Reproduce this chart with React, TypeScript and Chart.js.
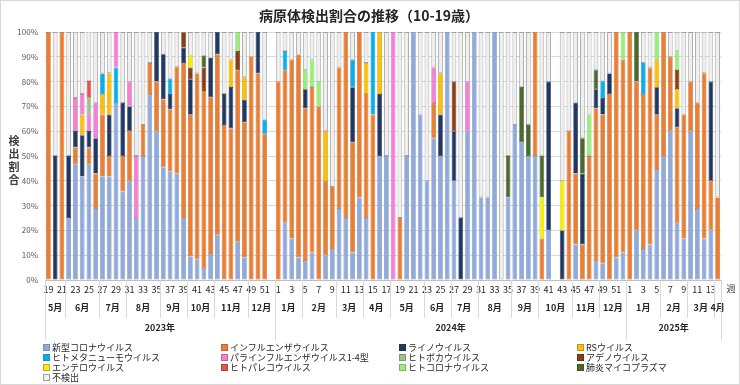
import React, { useEffect, useRef } from 'react';
import { Chart, registerables } from 'chart.js';

Chart.register(...registerables);

const FONT = '"Noto Sans CJK JP", "Noto Sans", sans-serif';
const TITLE = '病原体検出割合の推移（10-19歳）';
const Y_TITLE = ['検', '出', '割', '合'];
const X_UNIT = '週';

// categories: surveillance weeks 2023 w19 – 2025 w14
const WEEKS_2023 = Array.from({ length: 34 }, (_, i) => String(19 + i));
const WEEKS_2024 = Array.from({ length: 52 }, (_, i) => String(1 + i));
const WEEKS_2025 = Array.from({ length: 14 }, (_, i) => String(1 + i));
const WEEK_LABELS = [...WEEKS_2023, ...WEEKS_2024, ...WEEKS_2025];

const MONTH_LABELS = ['5月', '6月', '7月', '8月', '9月', '10月', '11月', '12月',
  '1月', '2月', '3月', '4月', '5月', '6月', '7月', '8月', '9月', '10月', '11月', '12月',
  '1月', '2月', '3月', '4月'];
const MONTH_SPANS = [3, 5, 4, 5, 4, 4, 5, 4, 4, 5, 4, 4, 5, 4, 4, 5, 4, 5, 4, 4, 5, 4, 4, 1];
const YEAR_LABELS = ['2023年', '2024年', '2025年'];
const YEAR_SPANS = [34, 52, 14];

// series values (%), bottom to top
const COVID = [
  0, 0, 0, 25, 46.7, 41.7, 46.7, 28.6, 41.7, 41.7,
  71.4, 35.7, 40, 25, 50, 75, 60, 45.5, 43.8, 42.9,
  25, 9.5, 8.3, 4.8, 10.5, 18.2, 0, 0, 15.4, 9.1,
  0, 0, 0, null,
  0, 23.1, 16.7, 9.1, 7.7, 11.1, 0, 10, 12.5, 28.6,
  25, 11.1, 33.3, 25, 0, 50, 50, 0, 0, 50,
  100, 66.7, 40, 57.1, 50, 100, 40, 0, 60, 100,
  33.3, 33.3, 100, 0, 33.3, 62.5, 55.6, 50, 50, 0,
  20, null, 0, 0, 14.3, 0, 0, 7.7, 6.7, 0,
  9.1, 11.1,
  0, 20, 12.5, 14.3, 44.4, 50, 60, 23.1, 16.7, 60,
  28.6, 16.7, 20, 0,
];
const FLU = [
  100, 0, 100, 0, 6.7, 0, 6.7, 14.3, 25, 8.3,
  0, 14.3, 20, 0, 12.5, 12.5, 20, 27.3, 25, 42.9,
  62.5, 57.1, 75, 71.4, 63.2, 72.7, 62.5, 61.1, 69.2, 54.5,
  90, 83.3, 58.8, null,
  80, 61.5, 72.2, 81.8, 61.5, 66.7, 70, 30, 25, 57.1,
  75, 44.4, 66.7, 50, 66.7, 0, 0, 0, 25, 0,
  0, 0, 0, 14.3, 0, 0, 0, 0, 0, 0,
  0, 0, 0, 0, 0, 0, 0, 0, 50, 16.7,
  0, null, 0, 60, 28.6, 14.3, 50, 61.5, 60, 75,
  90.9, 77.8,
  100, 60, 62.5, 71.4, 22.2, 50, 30, 38.5, 50, 20,
  42.9, 66.7, 20, 33.3,
];
const RHINO = [
  0, 50, 0, 25, 6.7, 16.7, 6.7, 14.3, 0, 16.7,
  0, 21.4, 10, 0, 0, 0, 20, 18.2, 6.2, 0,
  6.2, 14.3, 0, 0, 15.8, 9.1, 12.5, 16.7, 0, 9.1,
  0, 16.7, 0, null,
  0, 0, 0, 0, 7.7, 0, 0, 0, 0, 0,
  0, 22.2, 0, 0, 0, 25, 0, 0, 0, 0,
  0, 0, 0, 0, 16.7, 0, 20, 25, 0, 0,
  0, 0, 0, 0, 0, 0, 0, 0, 0, 0,
  60, null, 20, 0, 28.6, 28.6, 0, 7.7, 6.7, 8.3,
  0, 0,
  0, 0, 0, 0, 11.1, 0, 0, 7.7, 0, 0,
  0, 0, 40, 0,
];
const RSV = [
  0, 0, 0, 0, 0, 8.3, 0, 0, 8.3, 16.7,
  0, 0, 0, 0, 0, 0, 0, 0, 0, 0,
  0, 0, 0, 0, 0, 0, 0, 11.1, 0, 9.1,
  0, 0, 0, null,
  0, 0, 0, 0, 0, 0, 0, 20, 0, 0,
  0, 0, 0, 12.5, 0, 25, 0, 0, 0, 0,
  0, 0, 0, 0, 16.7, 0, 0, 0, 0, 0,
  0, 0, 0, 0, 0, 0, 0, 0, 0, 0,
  0, null, 0, 0, 0, 0, 0, 0, 0, 0,
  0, 0,
  0, 0, 0, 0, 11.1, 0, 0, 7.7, 0, 0,
  0, 0, 0, 0,
];
const HMPV = [
  0, 0, 0, 0, 0, 0, 0, 0, 8.3, 0,
  14.3, 0, 0, 0, 0, 0, 0, 0, 6.2, 0,
  0, 0, 0, 0, 0, 0, 0, 0, 0, 0,
  0, 0, 5.9, null,
  0, 7.7, 0, 0, 0, 0, 0, 0, 0, 0,
  0, 11.1, 0, 0, 33.3, 0, 0, 0, 0, 0,
  0, 0, 0, 0, 0, 0, 0, 0, 0, 0,
  0, 0, 0, 0, 0, 0, 0, 0, 0, 0,
  0, null, 0, 0, 0, 0, 0, 0, 6.7, 0,
  0, 0,
  0, 0, 12.5, 0, 0, 0, 0, 0, 0, 0,
  0, 0, 0, 0,
];
const PARA = [
  0, 0, 0, 0, 13.3, 8.3, 6.7, 14.3, 0, 0,
  14.3, 0, 10, 25, 0, 0, 0, 0, 0, 0,
  0, 0, 0, 0, 0, 0, 0, 0, 0, 0,
  0, 0, 0, null,
  0, 0, 0, 0, 0, 0, 0, 0, 0, 0,
  0, 0, 0, 0, 0, 0, 0, 100, 0, 0,
  0, 0, 0, 14.3, 0, 0, 0, 0, 20, 0,
  0, 0, 0, 0, 0, 0, 0, 0, 0, 0,
  0, null, 0, 0, 0, 0, 0, 0, 0, 0,
  0, 0,
  0, 0, 0, 0, 0, 0, 0, 0, 0, 0,
  0, 0, 0, 0,
];
const BOCA = [
  0, 0, 0, 0, 0, 0, 6.7, 0, 0, 0,
  0, 0, 0, 0, 0, 0, 0, 0, 0, 0,
  0, 0, 0, 0, 0, 0, 0, 0, 0, 0,
  0, 0, 0, null,
  0, 0, 0, 0, 0, 0, 0, 0, 0, 0,
  0, 0, 0, 0, 0, 0, 0, 0, 0, 0,
  0, 0, 0, 0, 0, 0, 0, 0, 0, 0,
  0, 0, 0, 0, 0, 0, 0, 0, 0, 0,
  0, null, 0, 0, 0, 0, 0, 0, 0, 0,
  0, 0,
  0, 0, 0, 0, 0, 0, 0, 0, 0, 0,
  0, 0, 0, 0,
];
const ADENO = [
  0, 0, 0, 0, 0, 0, 0, 0, 0, 0,
  0, 0, 0, 0, 0, 0, 0, 0, 0, 0,
  6.2, 4.8, 0, 9.5, 0, 0, 0, 0, 7.7, 0,
  0, 0, 0, null,
  0, 0, 0, 0, 0, 0, 0, 0, 0, 0,
  0, 0, 0, 0, 0, 0, 0, 0, 0, 0,
  0, 0, 0, 0, 0, 0, 20, 0, 0, 0,
  0, 0, 0, 0, 0, 0, 0, 0, 0, 0,
  0, null, 0, 0, 0, 0, 0, 0, 0, 0,
  0, 0,
  0, 0, 0, 0, 0, 0, 0, 7.7, 0, 0,
  0, 0, 0, 0,
];
const ENTERO = [
  0, 0, 0, 0, 0, 0, 0, 0, 0, 0,
  0, 0, 0, 0, 0, 0, 0, 0, 0, 0,
  0, 4.8, 0, 0, 0, 0, 0, 0, 0, 0,
  0, 0, 0, null,
  0, 0, 0, 0, 0, 0, 0, 0, 0, 0,
  0, 0, 0, 0, 0, 0, 0, 0, 0, 0,
  0, 0, 0, 0, 0, 0, 0, 0, 0, 0,
  0, 0, 0, 0, 0, 0, 0, 0, 0, 16.7,
  0, null, 20, 0, 0, 0, 0, 0, 0, 0,
  0, 0,
  0, 0, 0, 0, 0, 0, 0, 0, 0, 0,
  0, 0, 0, 0,
];
const PARECHO = [
  0, 0, 0, 0, 0, 0, 6.7, 0, 0, 0,
  0, 0, 0, 0, 0, 0, 0, 0, 0, 0,
  0, 0, 0, 0, 0, 0, 0, 0, 0, 0,
  0, 0, 0, null,
  0, 0, 0, 0, 0, 0, 0, 0, 0, 0,
  0, 0, 0, 0, 0, 0, 0, 0, 0, 0,
  0, 0, 0, 0, 0, 0, 0, 0, 0, 0,
  0, 0, 0, 0, 0, 0, 0, 0, 0, 0,
  0, null, 0, 0, 0, 0, 0, 0, 0, 0,
  0, 0,
  0, 0, 0, 0, 0, 0, 0, 0, 0, 0,
  0, 0, 0, 0,
];
const HCOV = [
  0, 0, 0, 0, 0, 0, 0, 0, 0, 0,
  0, 0, 0, 0, 0, 0, 0, 0, 0, 0,
  0, 0, 0, 0, 0, 0, 0, 0, 7.7, 0,
  0, 0, 0, null,
  0, 0, 0, 0, 7.7, 11.1, 10, 0, 0, 0,
  0, 0, 0, 0, 0, 0, 0, 0, 0, 0,
  0, 0, 0, 0, 0, 0, 0, 0, 0, 0,
  0, 0, 0, 0, 0, 0, 0, 0, 0, 0,
  0, null, 0, 0, 0, 0, 16.7, 0, 0, 0,
  0, 11.1,
  0, 0, 0, 0, 11.1, 0, 0, 7.7, 0, 0,
  0, 0, 0, 0,
];
const MYCO = [
  0, 0, 0, 0, 0, 0, 0, 0, 0, 0,
  0, 0, 0, 0, 0, 0, 0, 0, 0, 0,
  0, 0, 0, 4.8, 0, 0, 0, 0, 0, 0,
  0, 0, 0, null,
  0, 0, 0, 0, 0, 0, 0, 0, 0, 0,
  0, 0, 0, 0, 0, 0, 0, 0, 0, 0,
  0, 0, 0, 0, 0, 0, 0, 0, 0, 0,
  0, 0, 0, 0, 16.7, 0, 22.2, 12.5, 0, 16.7,
  0, null, 0, 0, 0, 14.3, 0, 7.7, 0, 0,
  0, 0,
  0, 20, 0, 0, 0, 0, 0, 0, 0, 0,
  0, 0, 0, 0,
];
const NOT_DETECTED = [
  0, 50, 0, 50, 26.7, 25, 20, 28.6, 16.7, 16.7,
  0, 28.6, 20, 50, 37.5, 12.5, 0, 9.1, 18.8, 14.3,
  0, 9.5, 16.7, 9.5, 10.5, 0, 25, 11.1, 0, 18.2,
  10, 0, 35.3, null,
  20, 7.7, 11.1, 9.1, 15.4, 11.1, 20, 40, 62.5, 14.3,
  0, 11.1, 0, 12.5, 0, 0, 50, 0, 75, 50,
  0, 33.3, 60, 14.3, 16.7, 0, 20, 75, 20, 0,
  66.7, 66.7, 0, 100, 50, 37.5, 22.2, 37.5, 0, 50,
  20, null, 60, 40, 28.6, 42.9, 33.3, 15.4, 20, 16.7,
  0, 0,
  0, 0, 12.5, 14.3, 0, 0, 10, 7.7, 33.3, 20,
  28.6, 16.7, 20, 66.7,
];

const SERIES_NAMES = ['新型コロナウイルス', 'インフルエンザウイルス', 'ライノウイルス', 'RSウイルス',
  'ヒトメタニューモウイルス', 'パラインフルエンザウイルス1-4型', 'ヒトボカウイルス', 'アデノウイルス',
  'エンテロウイルス', 'ヒトパレコウイルス', 'ヒトコロナウイルス', '肺炎マイコプラズマ', '不検出'];
const SERIES_VALUES = [COVID, FLU, RHINO, RSV, HMPV, PARA, BOCA, ADENO, ENTERO, PARECHO, HCOV, MYCO, NOT_DETECTED];

// styles
const COLORS = ['#8FAADC', '#ED7D31', '#203864', '#FFC000', '#00B0F0', '#F77FD6', '#9CC38A',
  '#8B3E12', '#F5F000', '#E8524A', '#98F07A', '#4B6B2D', '#EFEFEF'];
const BORDERS = ['#7b8db0', '#b86a35', '#2a3350', '#b8962f', '#2a8fb5', '#b86aa5', '#7f9a72',
  '#5e3315', '#b5b030', '#a84a45', '#7fb56a', '#3f5229', '#a0a0a0'];

const multiLevelAxis = {
  id: 'multiLevelAxis',
  afterDraw(chart: any) {
    const { ctx, chartArea: a } = chart;
    const n = WEEK_LABELS.length;
    const step = (a.right - a.left) / n;
    ctx.save();
    ctx.textAlign = 'center';
    ctx.textBaseline = 'middle';
    // title
    ctx.fillStyle = '#262626';
    ctx.font = `bold 14px ${FONT}`;
    ctx.fillText(TITLE, 369, 16);
    // vertical y title
    ctx.font = `bold 11px ${FONT}`;
    ctx.fillStyle = '#404040';
    Y_TITLE.forEach((ch, i) => ctx.fillText(ch, 14, 141 + i * 13));
    // unit
    ctx.font = `9px ${FONT}`;
    ctx.fillStyle = '#404040';
    ctx.fillText(X_UNIT, 731, 289);

    ctx.strokeStyle = '#D9D9D9';
    ctx.lineWidth = 1;
    const vline = (x: number, y2: number) => {
      const xx = Math.round(x) + 0.5;
      ctx.beginPath();
      ctx.moveTo(xx, a.bottom);
      ctx.lineTo(xx, y2);
      ctx.stroke();
    };
    // months
    ctx.font = `bold 9px ${FONT}`;
    ctx.fillStyle = '#262626';
    let start = 0;
    MONTH_SPANS.forEach((span, k) => {
      const x0 = a.left + start * step;
      const x1 = a.left + (start + span) * step;
      ctx.fillText(MONTH_LABELS[k], (x0 + x1) / 2, 308);
      vline(x1, 318);
      start += span;
    });
    // years
    start = 0;
    vline(a.left, 340);
    YEAR_SPANS.forEach((span, k) => {
      const x0 = a.left + start * step;
      const x1 = a.left + (start + span) * step;
      ctx.fillText(YEAR_LABELS[k], (x0 + x1) / 2, 328);
      vline(x1, 340);
      start += span;
    });
    ctx.restore();
  },
};

const LEGEND_COLS = [43, 221, 399, 577];
const LEGEND_ROWS = [347, 357, 367, 377];

export default function App() {
  const canvasRef = useRef<HTMLCanvasElement>(null);

  useEffect(() => {
    document.body.style.margin = '0';
    const chart = new Chart(canvasRef.current as HTMLCanvasElement, {
      type: 'bar',
      data: {
        labels: WEEK_LABELS,
        datasets: SERIES_NAMES.map((name, i) => ({
          label: name,
          data: SERIES_VALUES[i] as any,
          backgroundColor: COLORS[i],
          borderColor: BORDERS[i],
          borderWidth: i === 12 ? 0.9 : 0.7,
          borderSkipped: false,
          barPercentage: 0.7,
          categoryPercentage: 1,
        })),
      },
      options: {
        responsive: false,
        animation: false,
        layout: { padding: { top: 32, right: 19, bottom: 0, left: 0 } },
        plugins: {
          legend: { display: false },
          title: { display: false },
          tooltip: { enabled: false },
        },
        scales: {
          x: {
            stacked: true,
            grid: { display: false, drawTicks: false },
            border: { display: true, color: '#BFBFBF' },
            ticks: {
              autoSkip: false,
              maxRotation: 0,
              minRotation: 0,
              padding: 4,
              color: '#262626',
              font: { size: 9, family: FONT },
              callback: (_v: any, i: number) => (i % 2 === 0 ? WEEK_LABELS[i] : ''),
            },
            afterFit: (s: any) => { s.height = 62; },
          },
          y: {
            stacked: true,
            min: 0,
            max: 100,
            ticks: {
              stepSize: 10,
              callback: (v: any) => v + '%',
              color: '#595959',
              font: { size: 8, family: FONT },
              padding: 7,
            },
            grid: { color: '#D9D9D9', drawTicks: false },
            border: { display: false },
            afterFit: (s: any) => { s.width = 45; },
          },
        },
      } as any,
      plugins: [multiLevelAxis],
    });
    return () => chart.destroy();
  }, []);

  return (
    <div style={{ position: 'relative', width: 740, height: 385, background: '#fff', fontFamily: FONT }}>
      <canvas ref={canvasRef} width={740} height={342} style={{ display: 'block' }} />
      {SERIES_NAMES.map((name, i) => (
        <div
          key={name}
          style={{
            position: 'absolute',
            left: LEGEND_COLS[i % 4],
            top: LEGEND_ROWS[Math.floor(i / 4)] - 6,
            height: 12,
            display: 'flex',
            alignItems: 'center',
            fontSize: 9,
            color: '#262626',
            whiteSpace: 'nowrap',
          }}
        >
          <span
            style={{
              display: 'inline-block',
              width: 5,
              height: 5,
              background: COLORS[i],
              border: `1px solid ${BORDERS[i]}`,
              marginRight: 2,
            }}
          />
          {name}
        </div>
      ))}
      <div style={{ position: 'absolute', inset: 0, border: '1px solid #D9D9D9', pointerEvents: 'none' }} />
    </div>
  );
}
